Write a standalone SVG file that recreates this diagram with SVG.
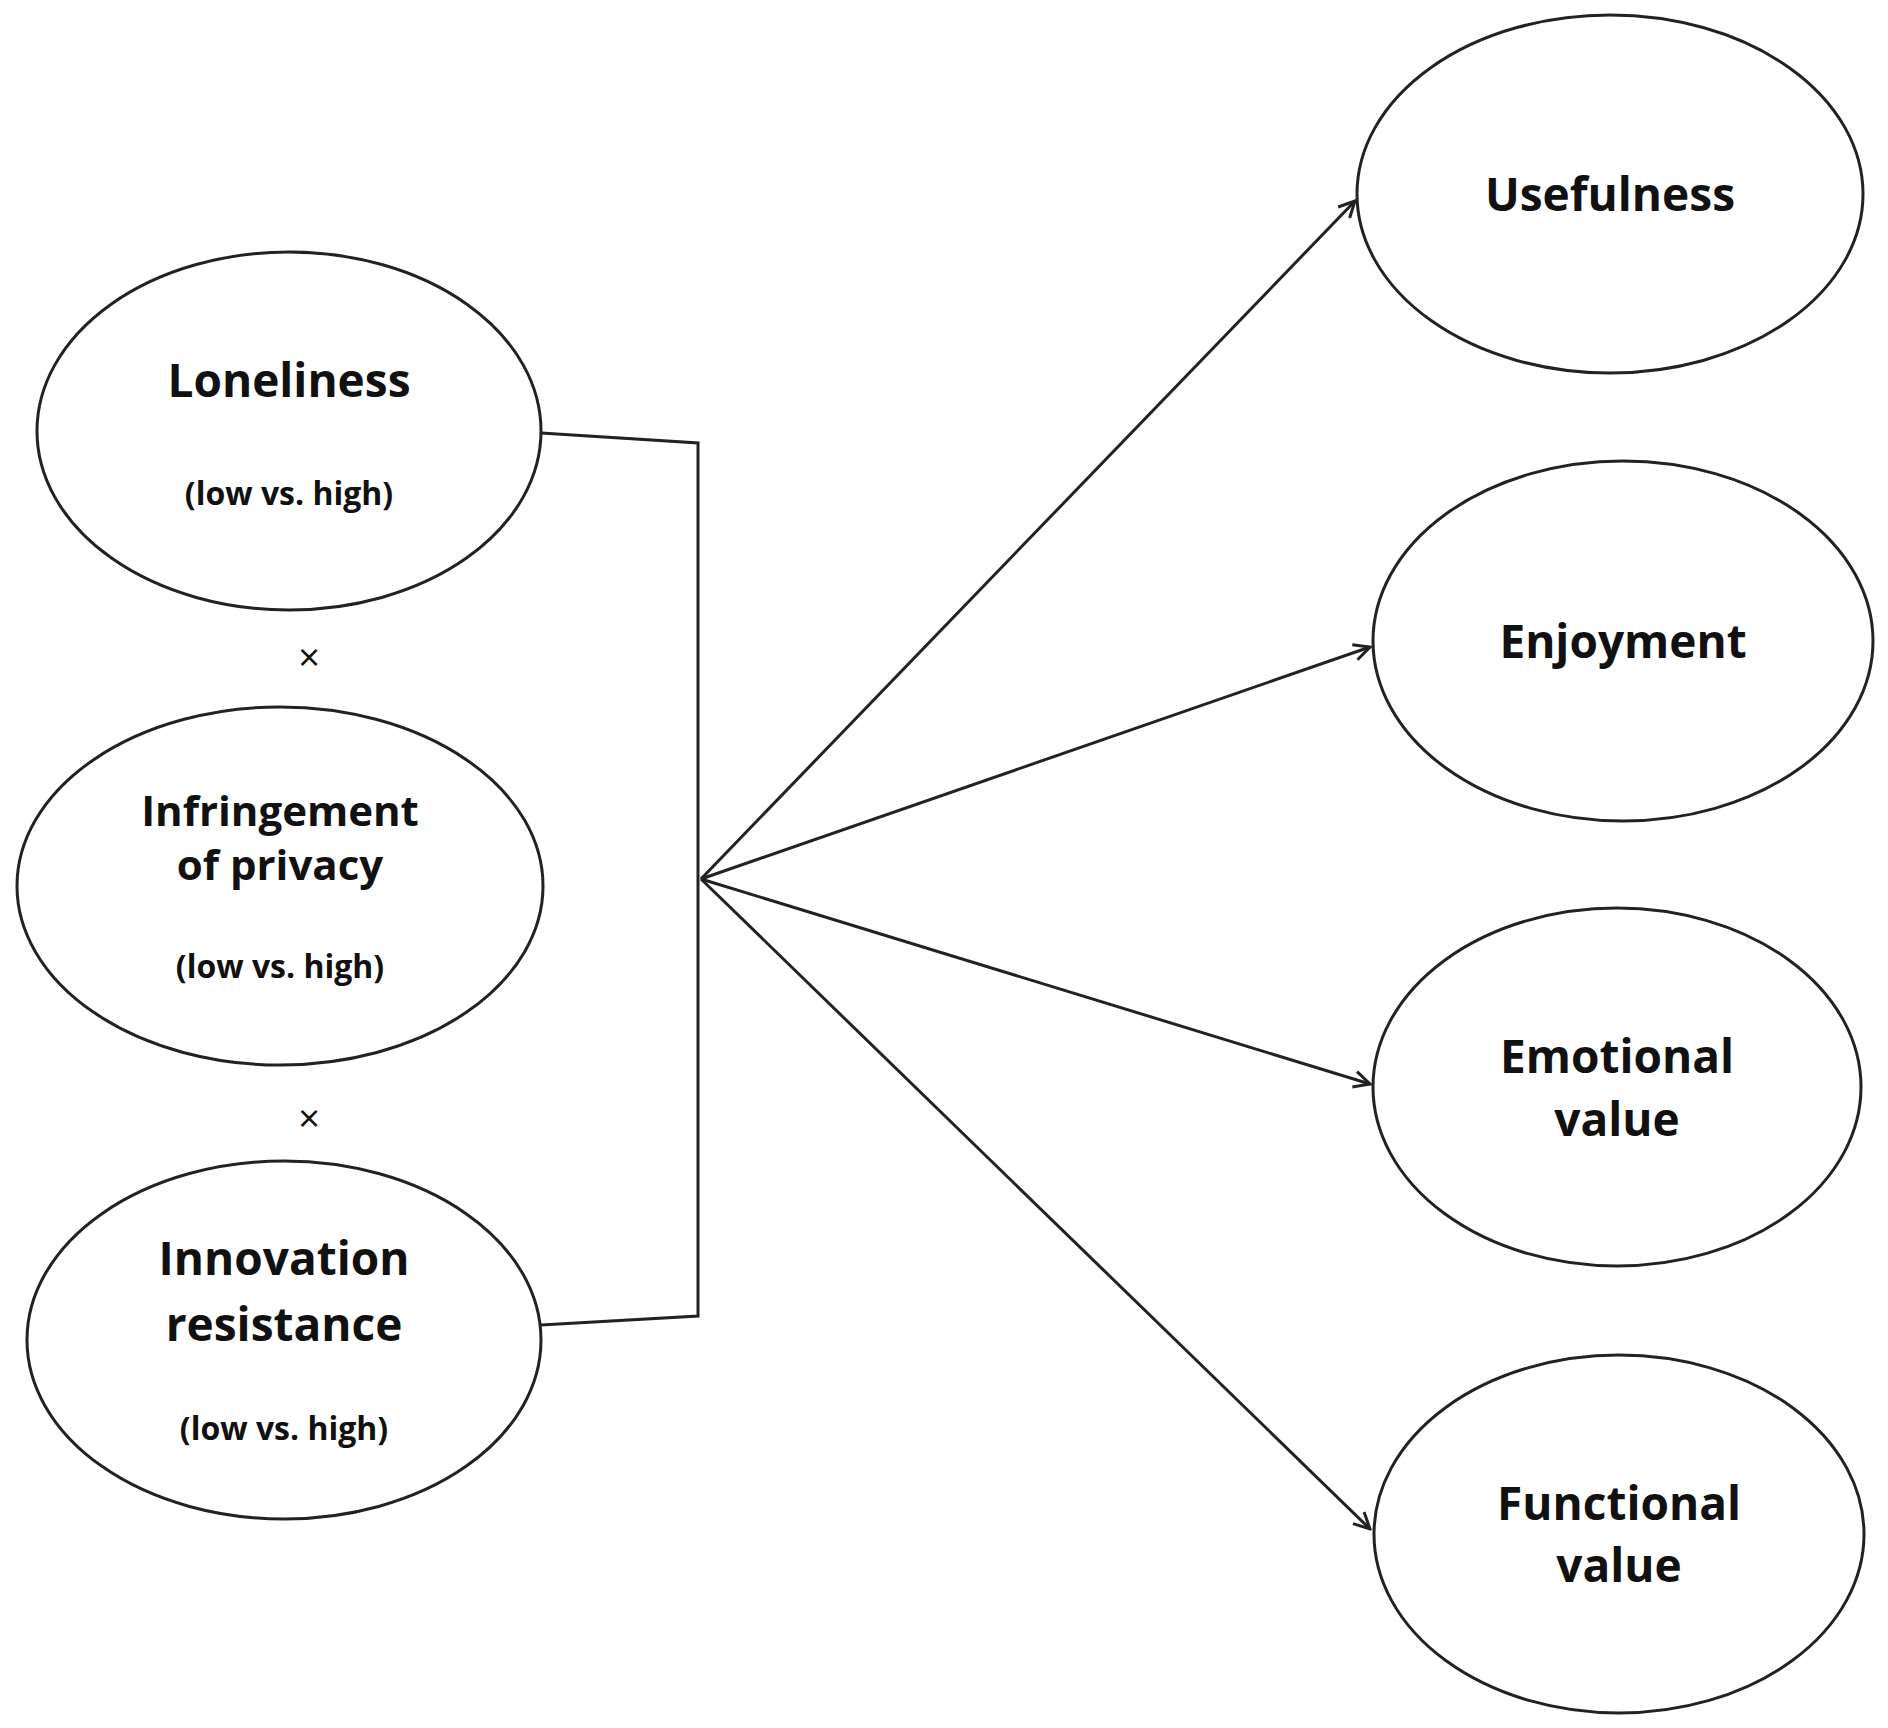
<svg xmlns="http://www.w3.org/2000/svg" width="1888" height="1728" viewBox="0 0 1888 1728">
<style>
.n{fill:#fff;stroke:#222;stroke-width:3}
.t{font-family:"Open Sans","Liberation Sans",sans-serif;font-weight:bold;font-size:46px;text-anchor:middle;fill:#111}
.s{font-family:"Open Sans","Liberation Sans",sans-serif;font-weight:bold;font-size:32px;text-anchor:middle;fill:#111}
.c{fill:none;stroke:#222;stroke-width:3}
</style>
<defs><marker id="a" markerWidth="20" markerHeight="20" refX="18" refY="10" orient="auto" markerUnits="userSpaceOnUse"><path d="M2,2 L18,10 L2,18" fill="none" stroke="#222" stroke-width="3"/></marker></defs>
<rect width="1888" height="1728" fill="#fff"/>
<g id="connectors">
<path class="c" d="M541,433 L698,443 L698,1316 L541,1325"/>
<line class="c" x1="701" y1="879" x2="1355" y2="201" marker-end="url(#a)"/>
<line class="c" x1="701" y1="879" x2="1370" y2="647" marker-end="url(#a)"/>
<line class="c" x1="701" y1="879" x2="1370" y2="1084" marker-end="url(#a)"/>
<line class="c" x1="701" y1="879" x2="1370" y2="1529" marker-end="url(#a)"/>
</g>
<g id="loneliness"><ellipse class="n" cx="289" cy="431" rx="252" ry="179"/><text class="t" x="289" y="397">Loneliness</text><text class="s" x="289" y="505">(low vs. high)</text></g>
<g id="x1"><text class="s" x="309" y="671" style="font-weight:normal;font-size:38px">×</text></g>
<g id="privacy"><ellipse class="n" cx="280" cy="886" rx="263" ry="179"/><text class="t" x="280" y="826" style="font-size:42px">Infringement</text><text class="t" x="280" y="880" style="font-size:42px">of privacy</text><text class="s" x="280" y="978">(low vs. high)</text></g>
<g id="x2"><text class="s" x="309" y="1132" style="font-weight:normal;font-size:38px">×</text></g>
<g id="innovation"><ellipse class="n" cx="284" cy="1340" rx="257" ry="179"/><text class="t" x="284" y="1275">Innovation</text><text class="t" x="284" y="1341">resistance</text><text class="s" x="284" y="1440">(low vs. high)</text></g>
<g id="usefulness"><ellipse class="n" cx="1610" cy="194" rx="253" ry="179"/><text class="t" x="1610" y="211">Usefulness</text></g>
<g id="enjoyment"><ellipse class="n" cx="1623" cy="641" rx="250" ry="180"/><text class="t" x="1623" y="658">Enjoyment</text></g>
<g id="emotional"><ellipse class="n" cx="1617" cy="1087" rx="244" ry="179"/><text class="t" x="1617" y="1073">Emotional</text><text class="t" x="1617" y="1136">value</text></g>
<g id="functional"><ellipse class="n" cx="1619" cy="1534" rx="245" ry="179"/><text class="t" x="1619" y="1520">Functional</text><text class="t" x="1619" y="1582">value</text></g>
</svg>
